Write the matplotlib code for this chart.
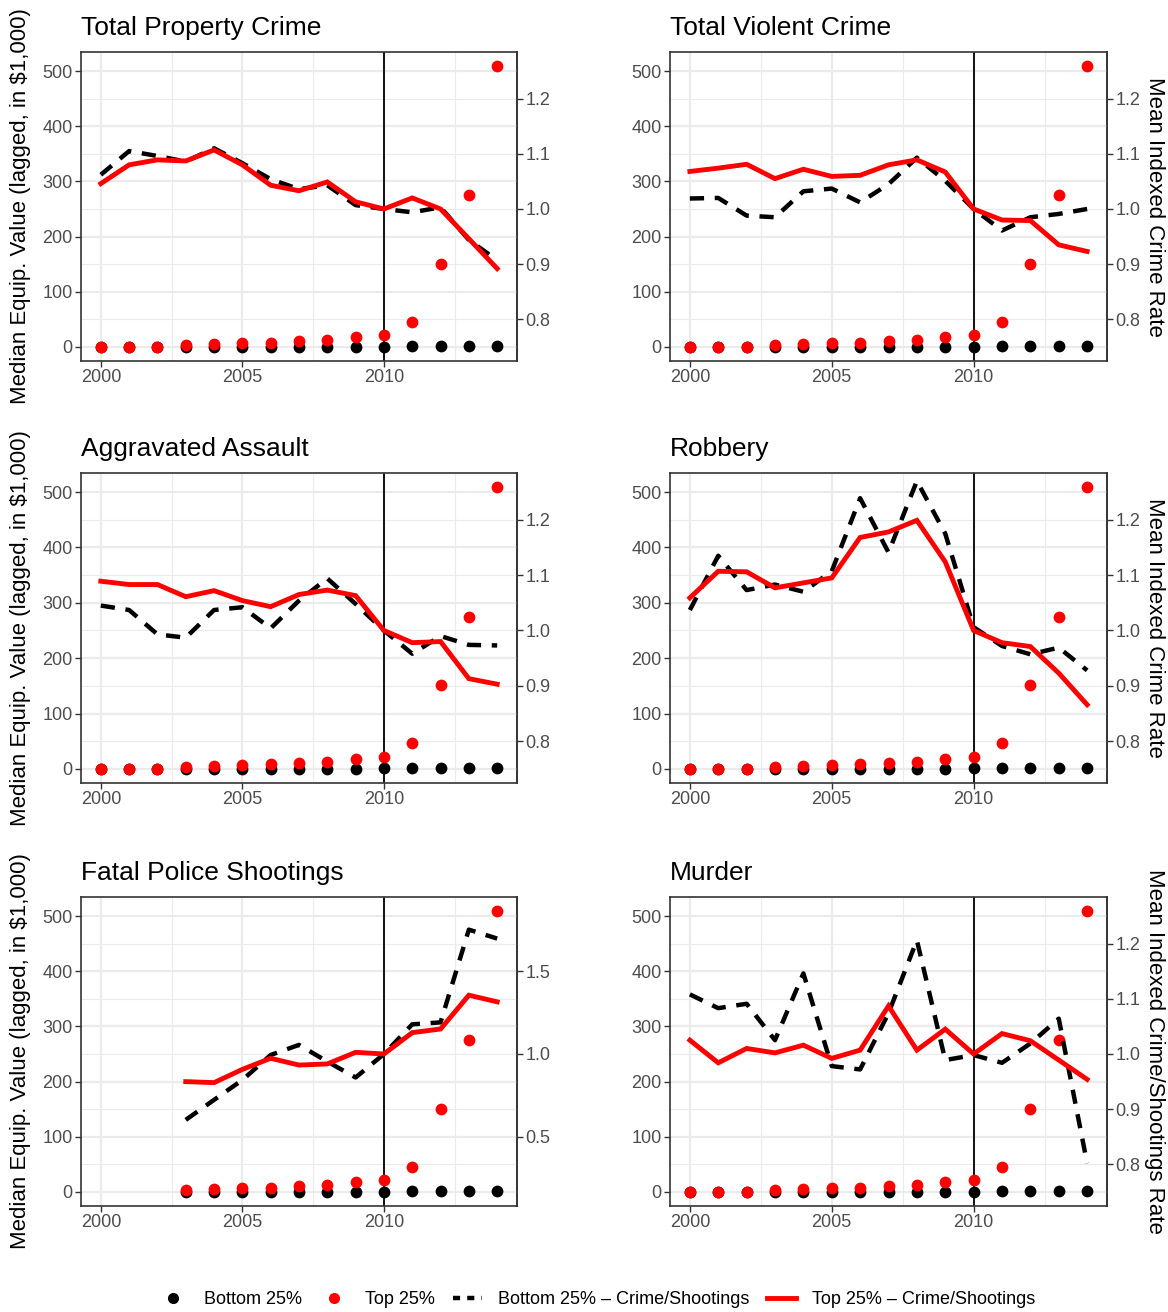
import matplotlib.pyplot as plt
from matplotlib.lines import Line2D

plt.rcParams['font.family'] = ['Liberation Sans', 'DejaVu Sans']

# Years on the x axis
years = [2000, 2001, 2002, 2003, 2004, 2005, 2006, 2007,
         2008, 2009, 2010, 2011, 2012, 2013, 2014]
shooting_years = years[3:]

# Median equipment value (lagged, in $1,000) by group
equip_top = [0, 0, 0, 3, 5, 7, 8, 11, 13, 18, 21, 46, 151, 275, 509]
equip_bottom = [0, 0, 0, 0, 0, 0, 0, 0, 0, 0.5, 0.8, 1, 1, 1, 1.5]

# Mean indexed crime rate (2010 = 1) by group
property_bottom = [1.062, 1.105, 1.096, 1.086, 1.110, 1.083, 1.054, 1.036,
                   1.043, 1.007, 1.000, 0.994, 1.003, 0.944, 0.907]
property_top = [1.046, 1.080, 1.089, 1.087, 1.107, 1.080, 1.043, 1.033,
                1.049, 1.013, 1.000, 1.020, 1.000, 0.946, 0.892]

violent_bottom = [1.019, 1.020, 0.988, 0.985, 1.032, 1.037, 1.012, 1.045,
                  1.093, 1.051, 1.000, 0.961, 0.985, 0.991, 1.000]
violent_top = [1.068, 1.074, 1.081, 1.055, 1.072, 1.059, 1.061, 1.080,
               1.089, 1.067, 1.000, 0.980, 0.979, 0.935, 0.923]

assault_bottom = [1.045, 1.037, 0.993, 0.987, 1.037, 1.042, 1.004, 1.054,
                  1.094, 1.048, 1.000, 0.958, 0.990, 0.974, 0.973]
assault_top = [1.089, 1.083, 1.083, 1.061, 1.072, 1.054, 1.043, 1.065,
               1.073, 1.063, 1.000, 0.978, 0.980, 0.913, 0.903]

robbery_bottom = [1.037, 1.135, 1.073, 1.083, 1.070, 1.107, 1.239, 1.141,
                  1.270, 1.175, 1.006, 0.972, 0.957, 0.969, 0.928]
robbery_top = [1.059, 1.107, 1.106, 1.077, 1.086, 1.095, 1.168, 1.178,
               1.199, 1.124, 1.000, 0.978, 0.971, 0.923, 0.866]

shootings_bottom = [0.602, 0.723, 0.843, 0.994, 1.055, 0.954, 0.858, 1.000,
                    1.179, 1.191, 1.751, 1.697]
shootings_top = [0.833, 0.827, 0.907, 0.974, 0.933, 0.940, 1.010, 1.000,
                 1.129, 1.151, 1.355, 1.315]

murder_bottom = [1.108, 1.083, 1.091, 1.025, 1.146, 0.978, 0.972, 1.074,
                 1.206, 0.989, 0.998, 0.984, 1.019, 1.064, 0.802]
murder_top = [1.025, 0.984, 1.010, 1.002, 1.016, 0.992, 1.007, 1.087,
              1.007, 1.045, 1.000, 1.037, 1.024, 0.989, 0.954]

LEFT_TITLE = "Median Equip. Value (lagged, in $1,000)"
GRID = '#EBEBEB'
DARK = '#333333'
TICK_TXT = '#4D4D4D'

W, H = 1168, 1312
fig = plt.figure(figsize=(W / 100, H / 100), dpi=100)


def box(x0, x1, y0, y1):
    return [x0 / W, 1 - y1 / H, (x1 - x0) / W, (y1 - y0) / H]


cols = [(81, 517), (670, 1107)]
rows = [(52, 361), (473, 783), (897, 1206)]


def draw_panel(ax, title, line_years, low, high, pt_years, pt_low, pt_high,
               slope, offset, rate_ticks, left_label, right_label):
    def to_rate(v):
        return (v - offset) / slope

    def from_rate(r):
        return slope * r + offset

    ax.axvline(2010, color='black', lw=1.3, zorder=2)
    ax.scatter(pt_years, pt_low, s=72, color='black', zorder=3, linewidths=0)
    ax.scatter(pt_years, pt_high, s=72, color='#FF0000', zorder=3, linewidths=0)
    ax.plot(line_years, [from_rate(r) for r in low], color='black', lw=3.2,
            dashes=(3.2, 2.4), zorder=4)
    ax.plot(line_years, [from_rate(r) for r in high], color='#FF0000', lw=3.5,
            zorder=5, solid_joinstyle='miter')

    ax.set_xlim(1999.3, 2014.7)
    ax.set_ylim(-25.45, 534.45)
    ax.set_xticks([2000, 2005, 2010])
    ax.set_xticks([2002.5, 2007.5, 2012.5], minor=True)
    ax.set_yticks([0, 100, 200, 300, 400, 500])
    ax.set_yticks([50, 150, 250, 350, 450], minor=True)
    ax.grid(which='major', color=GRID, lw=1.6, zorder=0)
    ax.grid(which='minor', color=GRID, lw=0.8, zorder=0)
    ax.set_axisbelow(True)
    ax.tick_params(which='major', length=4, width=1, color=DARK,
                   labelcolor=TICK_TXT, labelsize=13, pad=2)
    ax.tick_params(which='minor', length=0)
    for sp in ax.spines.values():
        sp.set_color(DARK)
        sp.set_linewidth(1.2)

    sec = ax.secondary_yaxis('right', functions=(to_rate, from_rate))
    sec.set_yticks(rate_ticks)
    sec.tick_params(length=4, width=1, color=DARK, labelcolor=TICK_TXT,
                    labelsize=13, pad=2)
    sec.spines['right'].set_color(DARK)
    sec.spines['right'].set_linewidth(1.2)

    ax.set_title(title, loc='left', fontsize=19, pad=12)
    if left_label:
        ax.set_ylabel(left_label, fontsize=16, labelpad=8)
    if right_label:
        sec.set_ylabel(right_label, fontsize=16, rotation=270, labelpad=18)


crime_ticks = [0.8, 0.9, 1.0, 1.1, 1.2]

panels = [
    ("Total Property Crime", years, property_bottom, property_top,
     years, equip_bottom, equip_top, 1000, -750, crime_ticks, LEFT_TITLE, None),
    ("Total Violent Crime", years, violent_bottom, violent_top,
     years, equip_bottom, equip_top, 1000, -750, crime_ticks, None,
     "Mean Indexed Crime Rate"),
    ("Aggravated Assault", years, assault_bottom, assault_top,
     years, equip_bottom, equip_top, 1000, -750, crime_ticks, LEFT_TITLE, None),
    ("Robbery", years, robbery_bottom, robbery_top,
     years, equip_bottom, equip_top, 1000, -750, crime_ticks, None,
     "Mean Indexed Crime Rate"),
    ("Fatal Police Shootings", shooting_years, shootings_bottom, shootings_top,
     shooting_years, equip_bottom[3:], equip_top[3:], 300, -50,
     [0.5, 1.0, 1.5], LEFT_TITLE, None),
    ("Murder", years, murder_bottom, murder_top,
     years, equip_bottom, equip_top, 1000, -750, crime_ticks, None,
     "Mean Indexed Crime/Shootings Rate"),
]

for i, p in enumerate(panels):
    r, c = divmod(i, 2)
    ax = fig.add_axes(box(cols[c][0], cols[c][1], rows[r][0], rows[r][1]))
    draw_panel(ax, *p)

handles = [
    Line2D([], [], ls='none', marker='o', ms=7, color='black'),
    Line2D([], [], ls='none', marker='o', ms=7, color='#FF0000'),
    Line2D([], [], color='black', lw=3.2, dashes=(1.6, 1.6)),
    Line2D([], [], color='#FF0000', lw=3.5),
]
labels = ["Bottom 25%", "Top 25%", "Bottom 25% \u2013 Crime/Shootings",
          "Top 25% \u2013 Crime/Shootings"]
fig.legend(handles, labels, loc='center',
           bbox_to_anchor=(0.5 + 13 / W, 1 - 1300 / H),
           ncol=4, frameon=False, fontsize=13, handlelength=1.6,
           handletextpad=0.9, columnspacing=1.0)

fig.savefig('out.png', dpi=100)
